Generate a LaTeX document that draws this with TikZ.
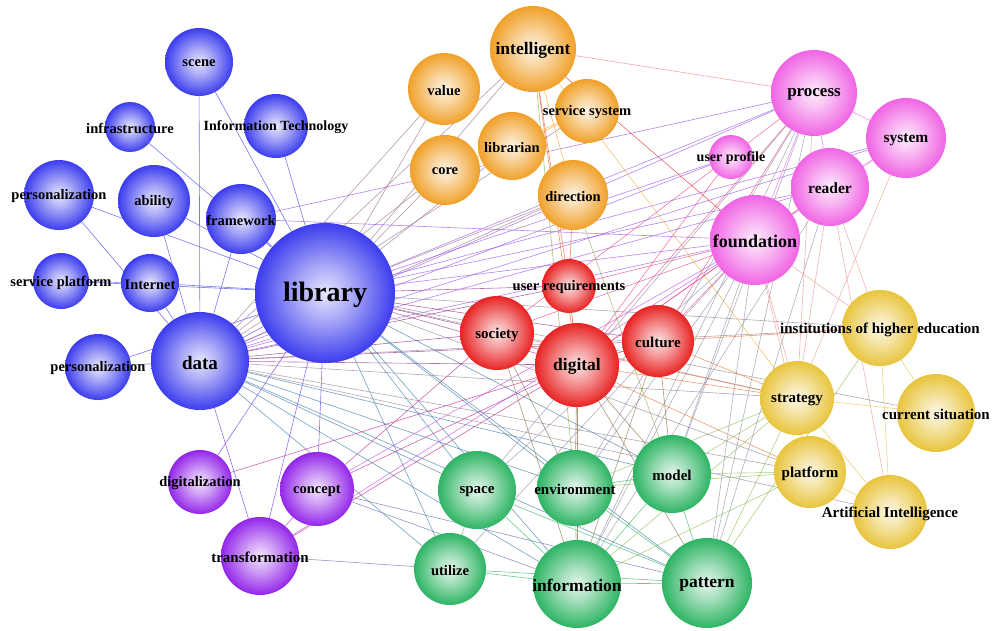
\documentclass[tikz,border=0pt]{standalone}
\usepackage{fontspec}
\setmainfont{Liberation Serif}
\usetikzlibrary{backgrounds}
\definecolor{cblue}{HTML}{3C3CEE}
\definecolor{cpurple}{HTML}{9326EA}
\definecolor{corange}{HTML}{F0A028}
\definecolor{cpink}{HTML}{F064E4}
\definecolor{cred}{HTML}{E82222}
\definecolor{cgreen}{HTML}{2DB463}
\definecolor{cyellow}{HTML}{E8C43C}
\newcommand\mkshade[2]{\pgfdeclareradialshading{#1}{\pgfpoint{0bp}{0bp}}{color(0bp)=(white!88!#2); color(10bp)=(white!55!#2); color(25bp)=(#2); color(50bp)=(#2)}}
\mkshade{sblue}{cblue}
\mkshade{spurple}{cpurple}
\mkshade{sorange}{corange}
\mkshade{spink}{cpink}
\mkshade{sred}{cred}
\mkshade{sgreen}{cgreen}
\mkshade{syellow}{cyellow}
% name, x, y, radius, group, font size, text
\newcommand\bn[7]{\colorlet{k#1}{c#5}\node[ball, minimum size={2*#4 pt}, shading=s#5, label={[font=\fontsize{#6}{#6}\selectfont\bfseries, text=black, yshift=-1.5pt]center:#7}] (#1) at (#2,#3) {};}
\begin{document}
\begin{tikzpicture}[x=1pt,y=-1pt,
  ball/.style={circle, inner sep=0pt, draw=none},
  edge/.style={line width=0.6pt, opacity=0.7}]
\useasboundingbox (0,0) rectangle (993,630);
% blue
\bn{lib}{325}{293}{70}{blue}{28}{library}
\bn{data}{200}{361}{49}{blue}{19}{data}
\bn{scene}{199}{62}{34}{blue}{14.5}{scene}
\bn{infra}{130}{127}{25}{blue}{14.5}{infrastructure}
\bn{it}{276}{126}{32}{blue}{14}{Information Technology}
\bn{pers1}{59}{195}{35}{blue}{14.5}{personalization}
\bn{abil}{154}{201}{36}{blue}{14.5}{ability}
\bn{frame}{241}{219}{35}{blue}{14.5}{framework}
\bn{splat}{61}{281}{28}{blue}{14.5}{service platform}
\bn{inet}{150}{283}{29}{blue}{14.5}{Internet}
\bn{pers2}{98}{367}{33}{blue}{14.5}{personalization}
% purple
\bn{digz}{200}{482}{32}{purple}{14.5}{digitalization}
\bn{conc}{317}{489}{37}{purple}{14.5}{concept}
\bn{trans}{260}{556}{39}{purple}{15}{transformation}
% orange
\bn{intel}{533}{49}{43}{orange}{17.5}{intelligent}
\bn{value}{444}{89}{36}{orange}{14.5}{value}
\bn{ssys}{587}{111}{32}{orange}{14.5}{service system}
\bn{libn}{512}{146}{34}{orange}{14.5}{librarian}
\bn{core}{445}{170}{35}{orange}{14.5}{core}
\bn{dir}{573}{195}{35}{orange}{14.5}{direction}
% pink
\bn{proc}{814}{93}{43}{pink}{17}{process}
\bn{sys}{906}{138}{40}{pink}{15.5}{system}
\bn{uprof}{731}{157}{22}{pink}{14}{user profile}
\bn{reader}{830}{187}{39}{pink}{15.5}{reader}
\bn{found}{755}{240}{45}{pink}{18}{foundation}
% red
\bn{ureq}{569}{286}{27}{red}{14.5}{user requirements}
\bn{soc}{497}{333}{37}{red}{15}{society}
\bn{dig}{577}{365}{42}{red}{17.5}{digital}
\bn{cult}{658}{341}{36}{red}{15}{culture}
% green
\bn{space}{477}{490}{39}{green}{15}{space}
\bn{env}{575}{488}{38}{green}{15}{environment}
\bn{model}{672}{474}{39}{green}{15}{model}
\bn{util}{450}{569}{36}{green}{14.5}{utilize}
\bn{info}{577}{584}{44}{green}{17.5}{information}
\bn{patt}{707}{583}{45}{green}{17.5}{pattern}
% yellow
\bn{inst}{880}{328}{38}{yellow}{15}{institutions of higher education}
\bn{strat}{797}{398}{37}{yellow}{15}{strategy}
\bn{cur}{936}{413}{39}{yellow}{15}{current situation}
\bn{plat}{810}{472}{36}{yellow}{15}{platform}
\bn{ai}{890}{512}{37}{yellow}{15}{Artificial Intelligence}
\begin{scope}[on background layer]
\foreach \a/\b in {scene/data, scene/lib, infra/lib, it/lib, pers1/lib, pers1/data, abil/lib, abil/data, frame/lib, frame/data, splat/inet, splat/lib, inet/lib, inet/data, pers2/data, pers2/lib, data/lib,
 data/trans, lib/digz, lib/trans, lib/conc,
 value/lib, value/data, core/lib, core/data, intel/lib, intel/data, libn/lib, dir/lib, dir/data, ssys/data,
 lib/proc, lib/found, lib/reader, lib/sys, lib/uprof, data/proc, data/found, data/reader, data/sys, frame/proc, frame/found, data/uprof,
 lib/ureq, lib/soc, lib/dig, lib/cult, data/soc, data/dig, data/cult, data/ureq,
 lib/space, lib/env, lib/model, lib/util, lib/info, lib/patt, data/space, data/env, data/model, data/util, data/info, data/patt,
 lib/strat, lib/plat, lib/inst, lib/cur, data/strat, data/plat, data/ai, data/inst,
 digz/dig, conc/trans, trans/util, conc/found, conc/dig, conc/soc, trans/found, trans/dig, conc/info, conc/patt,
 intel/proc, intel/dir, intel/ureq, intel/dig, intel/env, intel/strat, libn/ssys, dir/model, dir/ureq, core/ssys,
 proc/found, proc/reader, proc/sys, sys/reader, reader/found, sys/found, proc/soc, proc/dig, proc/cult, proc/env, proc/info, proc/patt, proc/model, proc/strat, proc/space,
 found/soc, found/dig, found/cult, found/info, found/patt, found/model, found/env, found/strat, found/inst, found/plat, found/util,
 reader/dig, reader/info, reader/patt, reader/inst, reader/ai, reader/strat, sys/strat, uprof/dig, found/ureq,
 soc/dig, dig/cult, dig/ureq, soc/env, soc/info, dig/env, dig/info, dig/model, dig/patt, cult/model, cult/info, cult/strat, cult/inst, dig/strat, dig/plat, soc/strat,
 space/info, space/patt, space/util, env/info, env/patt, model/patt, model/info, util/info, info/patt, util/patt, env/model, model/plat, patt/strat, patt/inst, env/strat, info/strat, model/strat, space/found, env/plat, info/plat,
 inst/cur, inst/ai, strat/cur, strat/ai, plat/ai}
 {\colorlet{ec}{k\a!50!k\b}\draw[edge, draw=ec] (\a) -- (\b);}
\draw[edge, draw=cred] (intel) -- (found);
\end{scope}
\end{tikzpicture}
\end{document}
